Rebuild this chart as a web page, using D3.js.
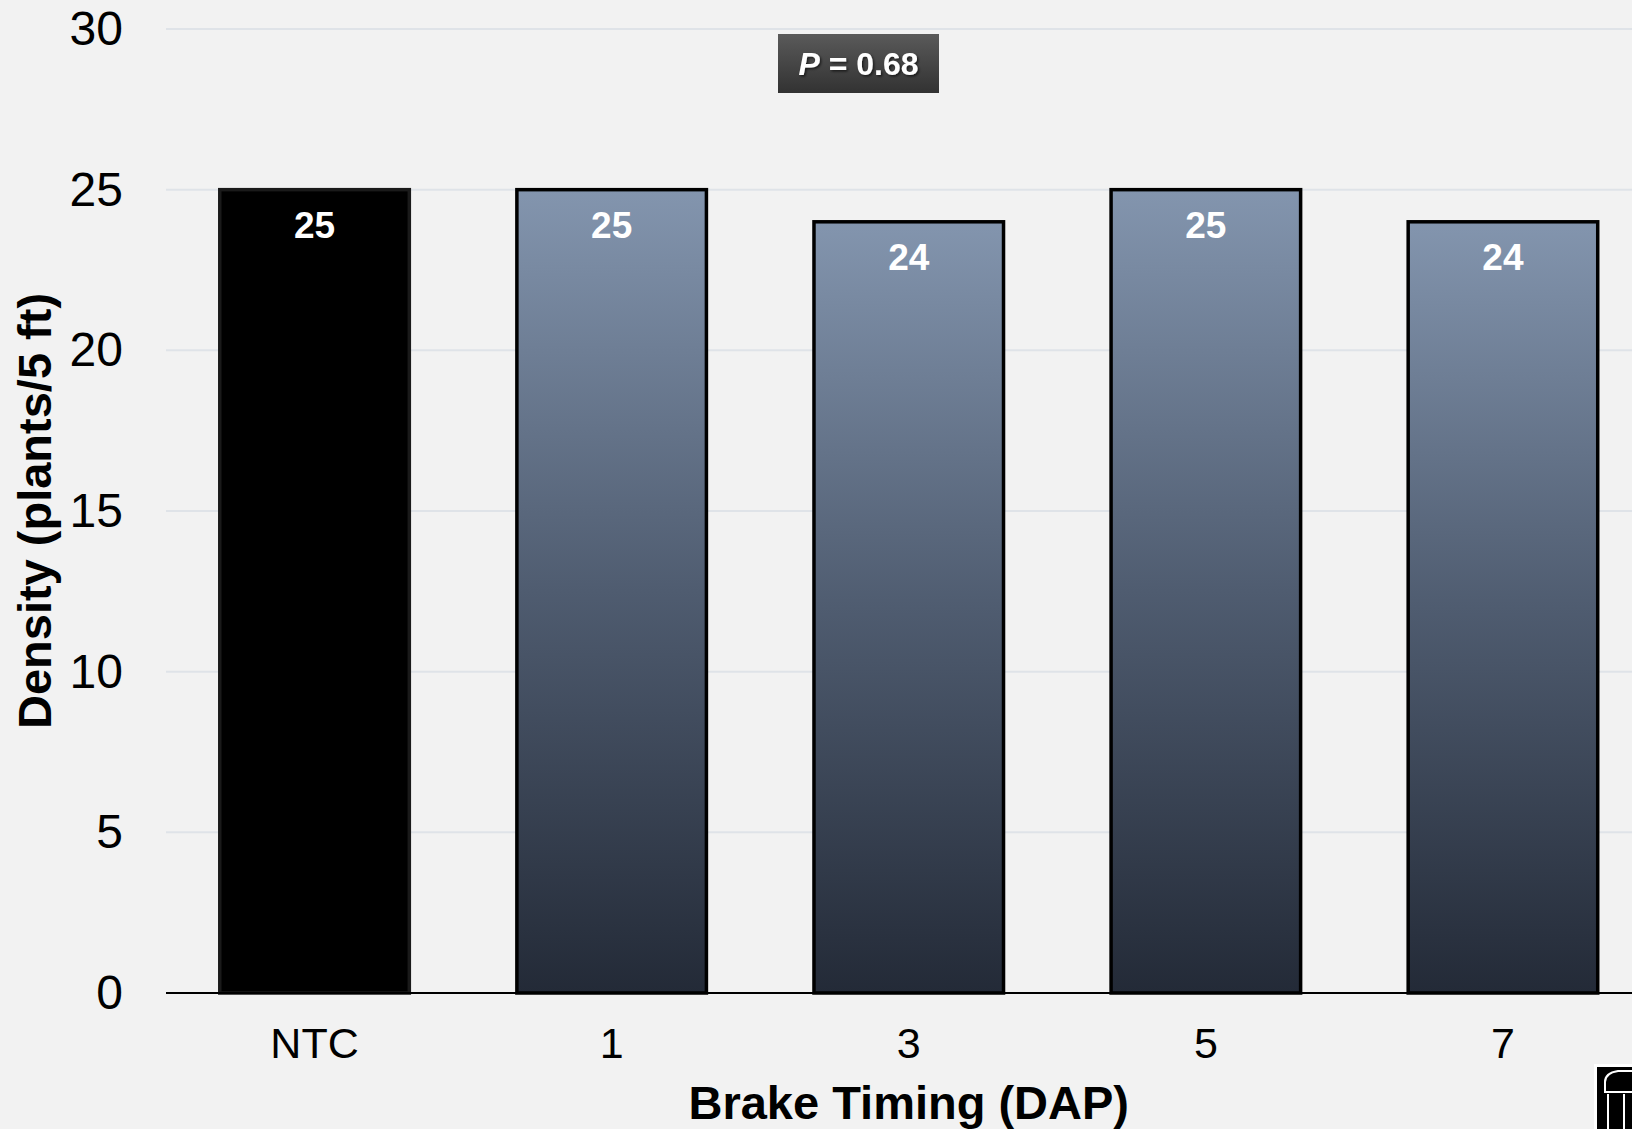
<!DOCTYPE html>
<html>
<head>
<meta charset="utf-8">
<script src="https://cdn.jsdelivr.net/npm/d3@7"></script>
<style>
  html, body { margin: 0; padding: 0; background: #f2f2f2; }
  svg { display: block; font-family: "Liberation Sans", Arial, sans-serif; }
</style>
</head>
<body>
<svg id="chart" width="1632" height="1129"></svg>
<script>
// Plant density by brake timing (days after planting)
const categories = ["NTC", "1", "3", "5", "7"];
const density = [25, 25, 24, 25, 24];
const yTicks = [0, 5, 10, 15, 20, 25, 30];
const pValueText = "0.68";
const xTitle = "Brake Timing (DAP)";
const yTitle = "Density (plants/5 ft)";

const W = 1632, H = 1129;
const plot = { left: 166, right: 1651.5, top: 29, bottom: 993 };

const svg = d3.select("#chart");

svg.append("rect").attr("width", W).attr("height", H).attr("fill", "#f2f2f2");

const defs = svg.append("defs");
const barGrad = defs.append("linearGradient")
  .attr("id", "barGrad").attr("x1", 0).attr("y1", 0).attr("x2", 0).attr("y2", 1);
barGrad.append("stop").attr("offset", "0%").attr("stop-color", "#8395ae");
barGrad.append("stop").attr("offset", "50%").attr("stop-color", "#4f5c70");
barGrad.append("stop").attr("offset", "100%").attr("stop-color", "#232a37");

const boxGrad = defs.append("linearGradient")
  .attr("id", "boxGrad").attr("x1", 0).attr("y1", 0).attr("x2", 0).attr("y2", 1);
boxGrad.append("stop").attr("offset", "0%").attr("stop-color", "#5a5a5a");
boxGrad.append("stop").attr("offset", "100%").attr("stop-color", "#323232");

const shadow = defs.append("filter").attr("id", "txtShadow")
  .attr("x", "-10%").attr("y", "-20%").attr("width", "130%").attr("height", "150%");
shadow.append("feDropShadow").attr("dx", 1.5).attr("dy", 1.5)
  .attr("stdDeviation", 1.2).attr("flood-color", "#000").attr("flood-opacity", 0.6);

const x = d3.scaleBand()
  .domain(categories)
  .range([plot.left, plot.right])
  .paddingInner(0.362)
  .paddingOuter(0.181);

const y = d3.scaleLinear().domain([0, 30]).range([plot.bottom, plot.top]);

// horizontal gridlines
svg.append("g").selectAll("line")
  .data(yTicks.filter(d => d > 0))
  .join("line")
  .attr("x1", plot.left).attr("x2", W)
  .attr("y1", d => y(d)).attr("y2", d => y(d))
  .attr("stroke", "#dfe3e8").attr("stroke-width", 2);

// y axis tick labels
const yAxis = svg.append("g")
  .attr("transform", `translate(${plot.left},0)`)
  .call(d3.axisLeft(y).tickValues(yTicks).tickSize(0).tickPadding(43));
yAxis.select(".domain").remove();
yAxis.selectAll("text")
  .attr("font-family", "Liberation Sans, Arial, sans-serif")
  .attr("font-size", 48).attr("fill", "#000");

// bars
svg.append("g").selectAll("rect")
  .data(density)
  .join("rect")
  .attr("x", (d, i) => x(categories[i]))
  .attr("width", x.bandwidth())
  .attr("y", d => y(d))
  .attr("height", d => y(0) - y(d))
  .attr("fill", (d, i) => i === 0 ? "#000" : "url(#barGrad)")
  .attr("stroke", (d, i) => i === 0 ? "#1a1a1a" : "#000")
  .attr("stroke-width", 3.5);

// baseline
svg.append("line")
  .attr("x1", plot.left).attr("x2", W)
  .attr("y1", y(0)).attr("y2", y(0))
  .attr("stroke", "#000").attr("stroke-width", 2);

// value labels
svg.append("g").selectAll("text")
  .data(density)
  .join("text")
  .attr("x", (d, i) => x(categories[i]) + x.bandwidth() / 2)
  .attr("y", d => y(d) + 48)
  .attr("text-anchor", "middle")
  .attr("font-size", 37).attr("font-weight", "bold")
  .attr("fill", "#fff")
  .text(d => d);

// x axis tick labels
const xAxis = svg.append("g")
  .attr("transform", `translate(0,${plot.bottom})`)
  .call(d3.axisBottom(x).tickSize(0));
xAxis.select(".domain").remove();
xAxis.selectAll("text")
  .attr("y", 65).attr("dy", null)
  .attr("font-family", "Liberation Sans, Arial, sans-serif")
  .attr("font-size", 43).attr("fill", "#000");

// axis titles
svg.append("text")
  .attr("x", x(categories[2]) + x.bandwidth() / 2).attr("y", 1119)
  .attr("text-anchor", "middle")
  .attr("font-size", 47).attr("font-weight", "bold")
  .text(xTitle);

svg.append("text")
  .attr("transform", `translate(51,${(plot.top + plot.bottom) / 2}) rotate(-90)`)
  .attr("text-anchor", "middle")
  .attr("font-size", 47).attr("font-weight", "bold")
  .text(yTitle);

// P-value box
const pBox = svg.append("g");
pBox.append("rect")
  .attr("x", 778).attr("y", 34).attr("width", 161).attr("height", 59)
  .attr("fill", "url(#boxGrad)");
const pText = pBox.append("text")
  .attr("x", 858.5).attr("y", 75)
  .attr("text-anchor", "middle")
  .attr("font-size", 32).attr("font-weight", "bold")
  .attr("fill", "#fff")
  .attr("filter", "url(#txtShadow)");
pText.append("tspan").attr("font-style", "italic").text("P");
pText.append("tspan").text(" = " + pValueText);

// arch emblem in the corner
const logo = svg.append("g").attr("transform", "translate(1594,1064)");
logo.append("rect").attr("width", 40).attr("height", 70).attr("fill", "#fff");
logo.append("rect").attr("x", 3).attr("y", 3).attr("width", 40).attr("height", 70).attr("fill", "#000");
logo.append("path")
  .attr("d", "M11,28 L11,18 Q11,9 24,7 L40,7")
  .attr("fill", "none").attr("stroke", "#fff").attr("stroke-width", 2);
logo.append("path")
  .attr("d", "M10,28 L40,28 M14,30 L14,70 M30,30 L30,70")
  .attr("fill", "none").attr("stroke", "#fff").attr("stroke-width", 2);
</script>
</body>
</html>
